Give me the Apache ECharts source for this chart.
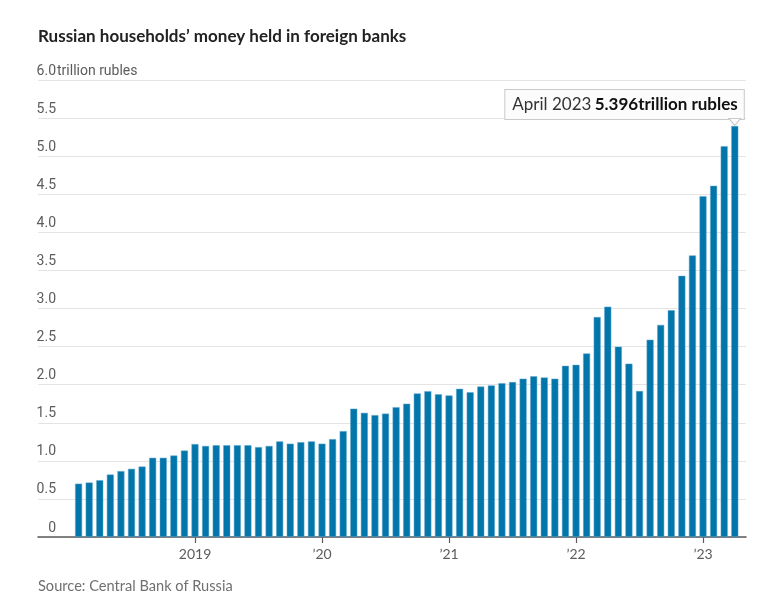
<!DOCTYPE html>
<html>
<head>
<meta charset="utf-8">
<script src="https://cdn.jsdelivr.net/npm/echarts@6/dist/echarts.min.js"></script>
<style>
  html, body { margin: 0; padding: 0; background: #fff; }
  #chart { width: 764px; height: 616px; }
</style>
</head>
<body>
<div id="chart"></div>
<script>
/* Russian households' money held in foreign banks, monthly, trillion rubles */
const months = [
  '2018-02', '2018-03', '2018-04', '2018-05', '2018-06', '2018-07', '2018-08', '2018-09', '2018-10', '2018-11', '2018-12',
  '2019-01', '2019-02', '2019-03', '2019-04', '2019-05', '2019-06', '2019-07', '2019-08', '2019-09', '2019-10', '2019-11', '2019-12',
  '2020-01', '2020-02', '2020-03', '2020-04', '2020-05', '2020-06', '2020-07', '2020-08', '2020-09', '2020-10', '2020-11', '2020-12',
  '2021-01', '2021-02', '2021-03', '2021-04', '2021-05', '2021-06', '2021-07', '2021-08', '2021-09', '2021-10', '2021-11', '2021-12',
  '2022-01', '2022-02', '2022-03', '2022-04', '2022-05', '2022-06', '2022-07', '2022-08', '2022-09', '2022-10', '2022-11', '2022-12',
  '2023-01', '2023-02', '2023-03', '2023-04'
];
const values = [
  0.70, 0.715, 0.745, 0.82, 0.865, 0.895, 0.925, 1.04, 1.04, 1.07, 1.135,
  1.22, 1.195, 1.205, 1.205, 1.205, 1.205, 1.18, 1.195, 1.255, 1.225, 1.245, 1.255,
  1.225, 1.285, 1.39, 1.685, 1.63, 1.60, 1.62, 1.705, 1.75, 1.885, 1.915, 1.873,
  1.858, 1.945, 1.90, 1.975, 1.99, 2.02, 2.034, 2.079, 2.109, 2.094, 2.079, 2.247,
  2.26, 2.41, 2.887, 3.024, 2.499, 2.276, 1.916, 2.59, 2.785, 2.977, 3.429, 3.697,
  4.475, 4.611, 5.131, 5.396
];
const tickMonths = ['2019-01', '2020-01', '2021-01', '2022-01', '2023-01'];
const tickLabels = ['2019', '\u201920', '\u201921', '\u201922', '\u201923'];
const monthNames = ['January', 'February', 'March', 'April', 'May', 'June', 'July',
  'August', 'September', 'October', 'November', 'December'];

const BLUE = '#0276ab';
const MUTED = '#5c5c5c';
const NARROW = '"Liberation Sans Narrow", "Roboto", sans-serif';
const FONT = 'Lato, "Noto Sans", sans-serif';

// x runs on month position within `months`; ticks sit on the January bars
const tickPos = tickMonths.map((m) => months.indexOf(m));
const last = months.length - 1;
const [ly, lm] = months[last].split('-');
const tipMonth = monthNames[+lm - 1] + ' ' + ly;

const data = values.map((v, i) => [i, v]);
data[last] = {
  value: [last, values[last]],
  label: {
    show: true, position: 'top', distance: 7, align: 'right', offset: [9, 0],
    backgroundColor: '#fcfcfc', borderColor: '#c9c9c9', borderWidth: 1,
    padding: [5, 6, 5, 7],
    formatter: '{a|' + tipMonth + '} {b|' + values[last].toFixed(3) + 'trillion rubles}',
    rich: {
      a: { fontFamily: FONT, fontSize: 17, color: '#333', lineHeight: 19 },
      b: { fontFamily: FONT, fontSize: 17, fontWeight: 'bold', color: '#111', lineHeight: 19 }
    }
  }
};

const chart = echarts.init(document.getElementById('chart'), null, { renderer: 'canvas' });
chart.setOption({
  animation: false,
  backgroundColor: '#fff',
  title: [
    { text: 'Russian households\u2019 money held in foreign banks', left: 33, top: 23,
      textStyle: { fontFamily: FONT, fontSize: 17, fontWeight: 'bold', color: '#222' } },
    { text: 'Source: Central Bank of Russia', left: 33, top: 574,
      textStyle: { fontFamily: FONT, fontSize: 14.6, fontWeight: 'normal', color: '#707070' } }
  ],
  graphic: [
    { type: 'text', left: 57, top: 64,
      style: { text: 'trillion rubles', fill: MUTED, font: '14px ' + NARROW } }
  ],
  grid: { left: 38, right: 18, top: 80, bottom: 79, containLabel: false },
  xAxis: {
    type: 'value',
    min: -3.835, max: 63.06,
    axisLine: { lineStyle: { color: '#5a5a5a', width: 1.6 } },
    axisTick: { show: true, length: 6, lineStyle: { color: '#5a5a5a', width: 1.2 }, customValues: tickPos },
    axisLabel: {
      customValues: tickPos, margin: 10, color: MUTED, fontFamily: FONT, fontSize: 14,
      formatter: (v) => { const k = tickPos.indexOf(Math.round(v)); return k < 0 ? '' : tickLabels[k]; }
    },
    splitLine: { show: false }
  },
  yAxis: {
    type: 'value', min: 0, max: 6, interval: 0.5,
    axisLine: { show: false },
    axisTick: { show: false },
    axisLabel: {
      inside: true, align: 'right', margin: 18, verticalAlign: 'bottom', padding: [0, 0, 2, 0],
      color: MUTED, fontFamily: NARROW, fontSize: 14,
      formatter: (v) => (v === 0 ? '0' : v.toFixed(1))
    },
    splitLine: { lineStyle: { color: '#e4e4e4', width: 1 } }
  },
  series: [{
    type: 'bar',
    data: data,
    barWidth: 7,
    itemStyle: { color: BLUE, borderColor: '#5ea6cf', borderWidth: 0.5 },
    markPoint: {
      silent: true,
      symbol: 'triangle', symbolRotate: 180, symbolSize: [12, 7], symbolOffset: [0, -4],
      itemStyle: { color: '#fcfcfc', borderColor: '#c9c9c9', borderWidth: 1 },
      label: { show: false },
      data: [{ coord: [last, values[last]] }]
    }
  }]
});
</script>
</body>
</html>
